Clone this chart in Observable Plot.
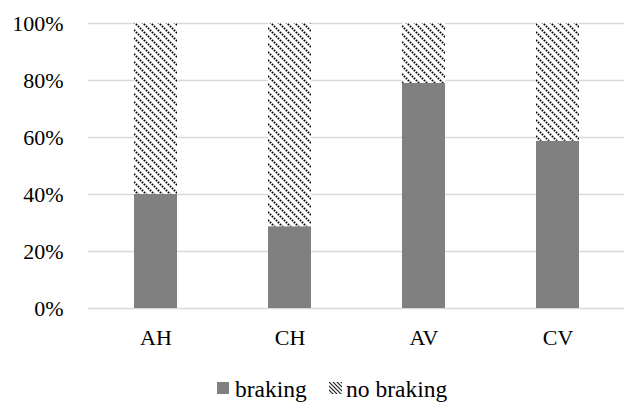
<!DOCTYPE html>
<html>
<head>
<meta charset="utf-8">
<script src="https://cdn.jsdelivr.net/npm/d3@7"></script>
<script src="https://cdn.jsdelivr.net/npm/@observablehq/plot@0.6"></script>
<style>
  html, body { margin: 0; padding: 0; background: #fff; }
  #chart { width: 625px; position: relative; }
  .legend { position: relative; height: 52px; width: 625px; overflow: hidden;
            font-family: "Liberation Serif", "Times New Roman", serif; font-size: 23.5px; color: #000; }
  .legend .txt { position: absolute; top: 26px; line-height: 27px; white-space: nowrap; }
  .legend svg { position: absolute; top: 32px; }
</style>
</head>
<body>
<div id="chart"></div>
<script>
const categories = ["AH", "CH", "AV", "CV"];
const braking = [40, 28.7, 79, 58.7];
const noBraking = [60, 71.3, 21, 41.3];
const seriesNames = ["braking", "no braking"];
const yTicks = [0, 20, 40, 60, 80, 100];

const rows = [];
categories.forEach((c, i) => {
  rows.push({cat: c, series: seriesNames[0], value: braking[i]});
  rows.push({cat: c, series: seriesNames[1], value: noBraking[i]});
});

const font = '"Liberation Serif", "Times New Roman", serif';

const plot = Plot.plot({
  width: 625,
  height: 350,
  marginTop: 23,
  marginBottom: 42,
  marginLeft: 88,
  marginRight: 1,
  style: {fontFamily: font, fontSize: "22px", color: "#000", background: "#fff"},
  x: {domain: categories, paddingInner: 0.68, paddingOuter: 0.34, label: null, tickSize: 0, tickPadding: 21},
  y: {domain: [0, 100], ticks: yTicks, tickFormat: d => d + "%", label: null, tickSize: 0, tickPadding: 25},
  color: {domain: seriesNames, range: ["#808080", "url(#hatch)"]},
  marks: [
    Plot.ruleY(yTicks, {stroke: "#d9d9d9", strokeWidth: 1.3}),
    Plot.barY(rows, {x: "cat", y: "value", fill: "series", order: seriesNames}),
  ]
});

// pattern defs
const svg = d3.select(plot);
const defs = svg.insert("defs", ":first-child");
const pat = defs.append("pattern")
  .attr("id", "hatch").attr("patternUnits", "userSpaceOnUse")
  .attr("width", 8).attr("height", 8);
pat.append("rect").attr("width", 8).attr("height", 8).attr("fill", "#fff");
pat.append("path").attr("d", "M-2,-2 L10,10 M-2,6 L2,10 M6,-2 L10,2")
  .attr("stroke", "#000").attr("stroke-width", 2.1).attr("stroke-dasharray", "1.6,1.2");

document.getElementById("chart").appendChild(plot);

// legend
const legend = d3.select("#chart").append("div").attr("class", "legend");
const swatchX = [217, 329];
const textX = [235, 346];
seriesNames.forEach((s, i) => {
  const sw = legend.append("svg").attr("width", 13).attr("height", 12).style("left", swatchX[i] + "px");
  if (i === 1) {
    const d2 = sw.append("defs").append("pattern").attr("id", "hatchL").attr("patternUnits", "userSpaceOnUse")
      .attr("width", 4).attr("height", 4);
    d2.append("path").attr("d", "M-1,-1 L5,5 M-1,3 L1,5 M3,-1 L5,1").attr("stroke", "#222").attr("stroke-width", 1.2);
    sw.append("rect").attr("width", 13).attr("height", 12).attr("fill", "url(#hatchL)");
  } else {
    sw.append("rect").attr("width", 12).attr("height", 12).attr("fill", "#808080");
  }
  legend.append("span").attr("class", "txt").style("left", textX[i] + "px").text(s);
});
</script>
</body>
</html>
